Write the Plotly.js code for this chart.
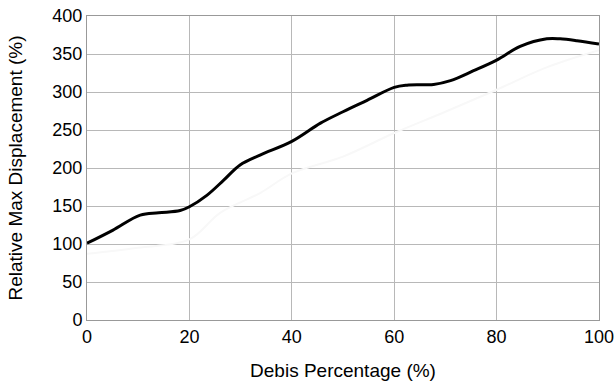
<!DOCTYPE html>
<html><head><meta charset="utf-8">
<script src="https://cdn.plot.ly/plotly-3.0.1.min.js"></script>
<style>html,body{margin:0;padding:0;background:#fff}#c{width:615px;height:387px}</style>
</head><body><div id="c"></div>
<script>
const debrisPct = [0, 5, 10.4, 14, 18.2, 20, 23.4, 26.7, 29.9, 33.8, 40, 45.6, 50, 54.7, 60, 62.5, 67.7, 71, 75.5, 80, 84.6, 89.8, 92.4, 95.7, 100];
const relDisp = [101, 118, 138, 141, 144, 149, 164, 184, 204, 217, 235, 259, 274, 289, 306, 309, 310, 315, 328, 342, 360, 370, 370, 367.5, 363];
const faintX = [0, 10, 20, 26, 33.8, 40, 50, 60, 70, 80, 90, 100];
const faintY = [87, 95, 106, 141, 167, 193, 215, 246, 274, 303, 333, 355];
const tickVals = [0, 20, 40, 60, 80, 100];
const yTickVals = [0, 50, 100, 150, 200, 250, 300, 350, 400];

const traces = [
  {x: faintX, y: faintY, mode: 'lines', line: {color: '#f8f8f8', width: 2, shape: 'spline'}, hoverinfo: 'skip'},
  {x: debrisPct, y: relDisp, mode: 'lines', line: {color: '#000', width: 3, shape: 'spline'}}
];
const tfont = {family: 'Liberation Sans, Arial, sans-serif', size: 18, color: '#000'};
const hfont = {family: 'Liberation Sans, Arial, sans-serif', size: 19, color: '#000'};
const layout = {
  width: 615, height: 387, showlegend: false,
  margin: {l: 87, r: 16, t: 16, b: 67},
  paper_bgcolor: '#fff', plot_bgcolor: '#fff', font: tfont,
  xaxis: {range: [0, 100], tickvals: tickVals, showgrid: true, gridcolor: '#b8b8b8', gridwidth: 1,
    showline: true, linecolor: '#999', mirror: true, zeroline: false, ticks: '', ticklen: 0,
    title: {text: 'Debis Percentage (%)', font: hfont, standoff: 18}, tickfont: tfont},
  yaxis: {range: [0, 400], tickvals: yTickVals, showgrid: true, gridcolor: '#b8b8b8', gridwidth: 1,
    showline: true, linecolor: '#999', mirror: true, zeroline: false, ticks: '', ticklen: 0,
    title: {text: 'Relative Max Displacement (%)', font: hfont, standoff: 24}, tickfont: tfont}
};
Plotly.newPlot('c', traces, layout, {staticPlot: true});
</script></body></html>
